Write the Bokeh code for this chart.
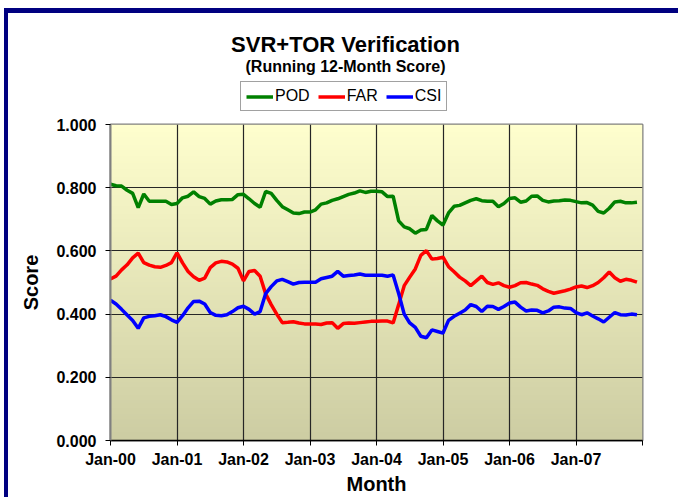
import numpy as np
from bokeh.plotting import figure
from bokeh.layouts import column
from bokeh.models import (Range1d, FixedTicker, NumeralTickFormatter, Label, Legend, LegendItem)
from bokeh.embed import file_html
from bokeh.resources import INLINE

# ---------------- data ----------------
tick_labels = ["Jan-00", "Jan-01", "Jan-02", "Jan-03", "Jan-04", "Jan-05", "Jan-06", "Jan-07"]

pod = [0.811, 0.806, 0.805, 0.792, 0.782, 0.737, 0.780, 0.757, 0.757, 0.757, 0.757, 0.747,
       0.750, 0.768, 0.773, 0.787, 0.772, 0.766, 0.748, 0.758, 0.762, 0.762, 0.763, 0.778,
       0.779, 0.765, 0.750, 0.738, 0.788, 0.782, 0.760, 0.740, 0.730, 0.720, 0.718, 0.723,
       0.723, 0.730, 0.748, 0.752, 0.760, 0.765, 0.772, 0.779, 0.783, 0.790, 0.785, 0.789,
       0.789, 0.787, 0.772, 0.773, 0.695, 0.676, 0.670, 0.656, 0.666, 0.668, 0.712, 0.695,
       0.682, 0.720, 0.741, 0.744, 0.752, 0.760, 0.765, 0.759, 0.757, 0.757, 0.740, 0.750,
       0.766, 0.768, 0.754, 0.758, 0.773, 0.774, 0.760, 0.755, 0.758, 0.759, 0.761, 0.760,
       0.756, 0.752, 0.753, 0.745, 0.725, 0.720, 0.735, 0.755, 0.757, 0.752, 0.752, 0.754]

far = [0.511, 0.520, 0.540, 0.556, 0.578, 0.593, 0.563, 0.555, 0.550, 0.548, 0.554, 0.563,
       0.594, 0.562, 0.535, 0.518, 0.507, 0.514, 0.547, 0.562, 0.567, 0.565, 0.558, 0.545,
       0.505, 0.535, 0.538, 0.520, 0.464, 0.430, 0.400, 0.373, 0.374, 0.376, 0.372, 0.369,
       0.369, 0.369, 0.367, 0.372, 0.373, 0.355, 0.370, 0.372, 0.371, 0.373, 0.375, 0.377,
       0.377, 0.378, 0.378, 0.372, 0.430, 0.490, 0.517, 0.543, 0.586, 0.601, 0.574, 0.576,
       0.580, 0.550, 0.534, 0.517, 0.505, 0.490, 0.505, 0.520, 0.500, 0.494, 0.499, 0.490,
       0.485, 0.490, 0.499, 0.500, 0.495, 0.491, 0.480, 0.472, 0.466, 0.470, 0.474, 0.479,
       0.486, 0.489, 0.484, 0.490, 0.500, 0.515, 0.533, 0.515, 0.504, 0.510, 0.507, 0.501]

csi = [0.444, 0.432, 0.415, 0.397, 0.380, 0.355, 0.388, 0.393, 0.395, 0.398, 0.392, 0.382,
       0.374, 0.395, 0.420, 0.440, 0.441, 0.432, 0.405, 0.396, 0.395, 0.398, 0.408, 0.420,
       0.425, 0.415, 0.400, 0.408, 0.465, 0.487, 0.505, 0.510, 0.503, 0.495, 0.500, 0.501,
       0.501, 0.501, 0.512, 0.516, 0.520, 0.535, 0.520, 0.522, 0.524, 0.527, 0.523, 0.523,
       0.523, 0.523, 0.520, 0.524, 0.465, 0.400, 0.372, 0.358, 0.330, 0.325, 0.350, 0.345,
       0.340, 0.380, 0.393, 0.403, 0.413, 0.430, 0.424, 0.408, 0.425, 0.424, 0.415, 0.424,
       0.435, 0.438, 0.422, 0.410, 0.413, 0.412, 0.404, 0.410, 0.422, 0.423, 0.419, 0.418,
       0.405, 0.398, 0.404, 0.394, 0.385, 0.375, 0.390, 0.405, 0.398, 0.397, 0.400, 0.398]

months = list(range(len(pod)))
series = [("POD", pod, "#008000"), ("FAR", far, "#FF0000"), ("CSI", csi, "#0000FF")]
FONT = "Liberation Sans"
W = 670

# ---------------- header: title, subtitle, legend ----------------
h = figure(width=W, height=101, output_backend="svg", toolbar_location=None,
           x_axis_type=None, y_axis_type=None, x_range=Range1d(0, 96), y_range=Range1d(2, 3),
           min_border=0, min_border_left=0, min_border_right=0, min_border_top=0, min_border_bottom=0,
           background_fill_color="white", border_fill_color="white", outline_line_color=None)
h.title = None
h.xgrid.visible = False
h.ygrid.visible = False
hitems = []
for name, vals, col in series:
    r = h.line(months, vals, line_color=col, line_width=3.5)
    hitems.append(LegendItem(label=name, renderers=[r]))
h.add_layout(Label(x=235, y=70, x_units="screen", y_units="screen", text="SVR+TOR Verification",
                   text_font=FONT, text_font_style="bold", text_font_size="22px",
                   text_align="center", text_baseline="middle", text_color="black"))
h.add_layout(Label(x=235, y=48, x_units="screen", y_units="screen", text="(Running 12-Month Score)",
                   text_font=FONT, text_font_style="bold", text_font_size="16px",
                   text_align="center", text_baseline="middle", text_color="black"))
legend = Legend(items=hitems, orientation="horizontal", location=(130, 3),
                label_text_font=FONT, label_text_font_size="16px", label_text_color="black",
                glyph_width=27, glyph_height=17, label_height=17, label_standoff=2,
                spacing=8, padding=5, margin=0,
                border_line_color="#444444", border_line_width=1,
                background_fill_color="white", background_fill_alpha=1)
h.add_layout(legend)

# ---------------- main chart ----------------
p = figure(width=W, height=383, output_backend="svg", toolbar_location=None,
           x_range=Range1d(0, 96), y_range=Range1d(0, 1),
           min_border_left=102, min_border_right=36, min_border_top=10, min_border_bottom=56,
           background_fill_color="#FFFFD0", border_fill_color="white")
p.title = None

# gradient background of the plot area
n = 120
top = np.array([255, 255, 206], dtype=float)
bot = np.array([205, 205, 163], dtype=float)
img = np.empty((n, 2), dtype=np.uint32)
view = img.view(dtype=np.uint8).reshape((n, 2, 4))
for i in range(n):
    t = i / (n - 1)
    c = bot + (top - bot) * t
    view[i, :, 0] = int(c[0]); view[i, :, 1] = int(c[1]); view[i, :, 2] = int(c[2]); view[i, :, 3] = 255
p.image_rgba(image=[img], x=0, y=0, dw=96, dh=1, level="image")

for name, vals, col in series:
    p.line(months, vals, line_color=col, line_width=3.5)

# grids
for g in (p.xgrid, p.ygrid):
    g.grid_line_color = "#262626"
    g.grid_line_width = 1.2
p.xgrid.ticker = FixedTicker(ticks=[12 * i for i in range(9)])
p.ygrid.ticker = FixedTicker(ticks=[0, 0.2, 0.4, 0.6, 0.8, 1.0])
p.outline_line_color = "#808080"
p.outline_line_width = 2

# axes
xa = p.xaxis[0]
xa.ticker = FixedTicker(ticks=[12 * i for i in range(9)])
ov = {12 * i: lab for i, lab in enumerate(tick_labels)}
ov[96] = ""
xa.major_label_overrides = ov
xa.axis_label = "Month"
ya = p.yaxis[0]
ya.ticker = FixedTicker(ticks=[0, 0.2, 0.4, 0.6, 0.8, 1.0])
ya.formatter = NumeralTickFormatter(format="0.000")
ya.axis_label = "Score"
for ax in (xa, ya):
    ax.major_label_text_font = FONT
    ax.major_label_text_font_style = "bold"
    ax.major_label_text_font_size = "16px"
    ax.major_label_text_color = "black"
    ax.axis_label_text_font = FONT
    ax.axis_label_text_font_style = "bold"
    ax.axis_label_text_font_size = "20px"
    ax.axis_label_text_color = "black"
    ax.major_tick_out = 5
    ax.major_tick_in = 0
    ax.minor_tick_line_color = None
    ax.major_tick_line_color = "black"
xa.axis_line_color = "black"
xa.axis_line_width = 1.5
ya.axis_line_color = "#808080"
ya.axis_line_width = 2
ya.major_label_standoff = 9
xa.major_label_standoff = 5
ya.axis_label_standoff = 11
xa.axis_label_standoff = 2

layout = column(h, p, spacing=0,
                styles={"margin-left": "4px", "margin-top": "8px",
                        "border-top": "5px solid #000080", "border-left": "4px solid #000080"})

open("out.html", "w").write(file_html(layout, INLINE))
